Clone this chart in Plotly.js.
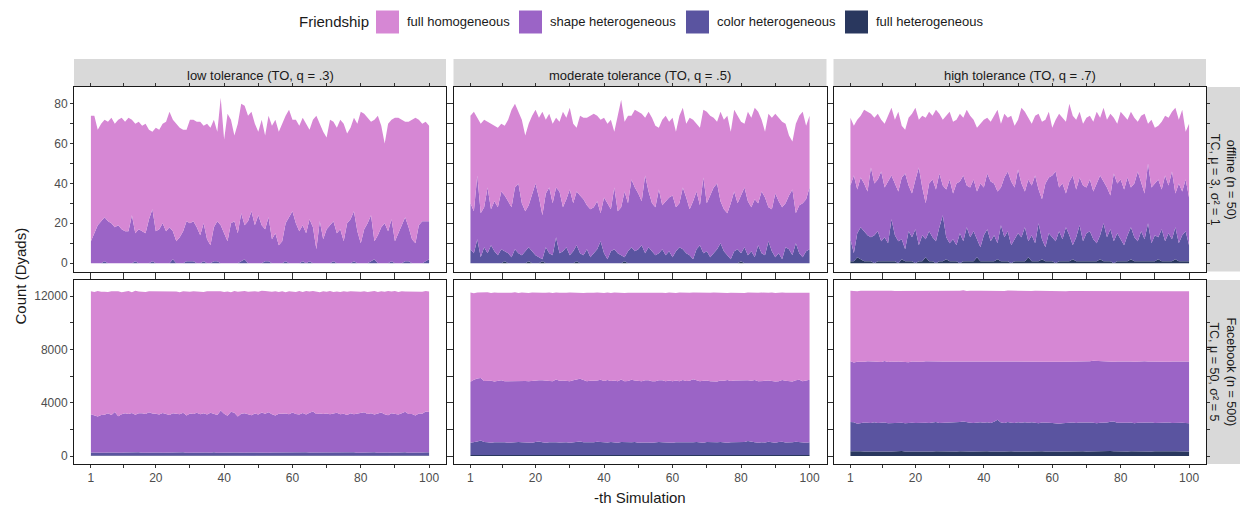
<!DOCTYPE html>
<html><head><meta charset="utf-8">
<script src="https://cdn.plot.ly/plotly-3.0.1.min.js"></script>
<style>html,body{margin:0;padding:0;background:#fff}#chart{width:1241px;height:506px}</style>
</head><body><div id="chart"></div>
<script>
const simulation = [1,2,3,4,5,6,7,8,9,10,11,12,13,14,15,16,17,18,19,20,21,22,23,24,25,26,27,28,29,30,31,32,33,34,35,36,37,38,39,40,41,42,43,44,45,46,47,48,49,50,51,52,53,54,55,56,57,58,59,60,61,62,63,64,65,66,67,68,69,70,71,72,73,74,75,76,77,78,79,80,81,82,83,84,85,86,87,88,89,90,91,92,93,94,95,96,97,98,99,100];
const groupNames = ["full homogeneous","shape heterogeneous","color heterogeneous","full heterogeneous"];
const colTitles = ["low tolerance (TO, q = .3)","moderate tolerance (TO, q = .5)","high tolerance (TO, q = .7)"];
const rowTitles = ["offline (n = 50)<br>TC, μ = 3, σ² = 1","Facebook (n = 500)<br>TC, μ = 50, σ² = 5"];
const xTickVals = [1,20,40,60,80,100];
const yTickOffline = [0,20,40,60,80];
const yTickFacebook = [0,4000,8000,12000];
const yTickFacebookText = ["0","4000","8000","12000"];

// ---- offline, low tolerance
const offLow_fullHet = [0,0,0,0,0,0,0,0,0,0,0,0,0,0,0,0,0,0,0,0,0,0,0,0,0,0,0,0,0,0,0,0,0,0,0,0,0,0,0,0,0,0,0,0,0,0,0,0,0,0,0,0,0,0,0,0,0,0,0,0,0,0,0,0,0,0,0,0,0,0,0,0,0,0,0,0,0,0,0,0,0,0,0,0,0,0,0,0,0,0,0,0,0,0,0,0,0,0,0,0];
const offLow_colorHet = [0,0,0,0,1,0,0,0,0,0,0,0,0,1,0,0,0,0,1,0,0,0,0,0,2,0,0,0,1,1,1,0,0,1,0,0,1,1,0,0,0,0,0,0,1,2,0,0,0,0,0,1,1,0,0,0,0,1,0,0,0,0,1,0,1,0,0,0,0,0,0,1,0,0,0,0,0,1,0,0,0,0,1,2,0,0,0,0,1,0,0,0,1,1,0,0,0,0,1,2];
const offLow_shapeHet = [11,15,19,21,22,21,20,18,19,17,16,16,24,14,17,16,15,22,26,16,17,20,16,18,14,11,13,16,20,19,20,18,14,19,12,9,17,20,19,15,11,20,21,15,24,17,21,26,19,24,19,16,22,12,15,9,11,19,23,26,20,16,18,15,21,18,7,21,12,17,19,20,15,17,11,20,22,25,16,10,17,20,23,9,14,18,20,16,21,11,15,19,22,17,12,10,19,21,20,19];
const offLow_fullHomo = [63,59,48,49,49,50,53,52,53,56,55,57,48,55,54,53,55,45,39,52,50,50,55,58,56,59,55,51,46,52,51,53,57,49,58,59,54,45,64,47,64,52,43,55,55,60,53,50,51,42,53,47,51,57,57,57,59,54,54,46,52,53,54,55,45,54,67,49,54,46,53,50,53,55,59,45,46,47,54,66,58,53,47,61,60,51,40,54,50,62,58,53,48,53,60,63,53,49,50,48];

// ---- offline, moderate tolerance
const offMod_fullHet = [0,0,0,0,0,0,0,0,0,0,1,0,0,0,0,0,0,1,0,0,0,1,0,0,0,0,0,0,0,0,0,1,0,0,0,0,0,0,0,0,0,0,0,0,0,1,0,0,0,0,0,0,0,0,0,0,0,0,0,0,0,0,0,0,0,0,0,0,0,0,0,0,0,0,0,0,0,0,0,1,0,0,0,0,0,0,0,0,0,0,0,0,0,0,0,0,0,0,0,0];
const offMod_colorHet = [7,5,12,3,8,5,9,6,4,7,5,5,3,7,5,4,6,7,6,4,3,1,8,5,4,13,5,6,8,4,6,8,5,4,7,3,5,7,11,5,2,6,7,5,4,2,6,8,6,7,9,5,8,6,4,5,7,4,6,3,6,8,7,5,4,2,7,9,5,6,3,5,7,10,6,4,2,6,7,4,8,4,6,3,9,5,4,11,6,3,5,2,8,7,4,10,5,3,6,7];
const offMod_shapeHet = [23,21,32,22,20,33,18,25,24,29,28,26,25,31,35,26,20,21,28,36,30,22,27,33,26,25,31,22,24,33,24,27,29,28,22,24,23,24,14,28,28,21,31,21,24,33,24,34,32,28,22,39,28,24,24,32,22,27,27,31,22,22,31,28,23,29,29,20,38,24,31,33,33,21,21,21,28,30,23,29,30,27,22,29,21,31,29,17,21,32,26,26,22,27,33,15,24,27,26,31];
const offMod_fullHomo = [44,50,29,45,44,33,43,38,40,34,35,41,49,42,36,42,38,41,40,37,40,52,37,37,40,35,35,48,41,41,40,32,40,41,44,47,47,43,47,40,40,45,28,48,54,35,44,32,39,41,44,29,40,43,41,31,43,43,38,39,38,44,40,37,46,41,34,39,34,46,40,35,31,45,45,49,36,41,44,37,32,45,45,46,46,36,33,47,46,40,42,43,40,30,24,45,45,46,37,36];

// ---- offline, high tolerance
const offHigh_fullHet = [1,1,3,2,1,1,1,0,1,1,1,1,1,1,0,2,1,1,1,0,1,1,3,1,1,0,1,1,2,1,1,1,0,1,1,1,1,3,1,1,1,1,1,2,1,1,1,0,1,1,1,1,3,1,1,1,2,1,1,1,0,1,1,1,1,2,1,1,1,1,1,1,1,2,1,1,1,0,1,1,1,1,2,1,1,1,1,1,1,1,2,1,1,1,1,2,1,1,1,1];
const offHigh_colorHet = [11,4,12,16,15,13,12,14,15,10,12,9,21,13,11,10,6,15,12,17,8,13,9,15,12,11,17,23,11,9,11,8,15,10,17,12,15,9,7,13,16,10,13,8,18,12,15,9,11,14,12,17,8,13,9,19,10,7,14,12,11,15,11,17,13,7,12,18,10,14,15,11,9,12,19,12,16,11,14,11,8,13,16,12,10,15,11,19,9,13,11,16,10,14,11,16,9,13,15,8];
const offHigh_shapeHet = [27,39,22,25,24,22,35,26,26,35,25,31,22,26,25,31,38,23,22,25,39,24,18,24,29,26,27,15,24,32,23,31,26,33,21,25,26,24,32,24,28,30,26,26,19,30,30,32,26,32,27,18,31,25,34,17,20,32,28,31,35,22,28,17,27,35,24,24,28,23,26,24,30,30,21,25,17,34,25,30,28,29,20,27,35,25,23,30,28,26,29,20,33,24,34,17,30,22,26,24];
const offHigh_fullHomo = [34,25,35,31,37,40,27,33,33,26,32,33,34,32,40,26,22,34,40,36,24,36,43,36,32,40,30,33,37,34,36,32,34,29,38,36,30,32,30,34,28,30,34,41,32,32,27,33,31,25,38,40,31,31,30,38,39,32,33,24,26,37,33,36,39,30,35,33,31,35,32,35,36,29,37,34,41,28,30,34,37,29,38,33,25,33,40,20,34,28,27,34,30,34,30,43,32,41,24,37];

// ---- Facebook, low tolerance
const fbLow_fullHet = [31,28,35,30,26,33,29,37,32,27,30,34,28,31,36,29,33,27,30,35,32,28,31,26,34,30,29,36,33,28,31,27,35,30,32,29,34,28,31,33,26,30,35,29,32,28,31,34,27,30,33,29,36,31,28,32,30,27,35,29,31,34,28,30,33,26,32,29,35,31,28,30,33,27,31,36,29,32,30,28,34,31,27,33,30,29,35,28,32,30,27,33,31,29,34,28,30,32,29,31];
const fbLow_colorHet = [228,215,240,232,209,236,221,247,230,218,225,239,212,234,243,220,228,251,216,233,238,222,229,245,214,231,226,240,219,235,227,244,218,230,236,213,249,225,232,221,240,216,234,228,247,222,231,219,238,226,233,242,215,229,236,224,251,220,230,239,217,235,228,244,221,232,226,213,240,229,246,218,233,225,237,222,230,248,216,231,239,224,228,245,219,234,227,241,213,236,230,222,247,218,232,238,225,229,243,250];
const fbLow_shapeHet = [2870,2780,2690,2810,2850,2930,2820,3010,2720,2880,2950,2870,2990,2830,2920,2960,2890,3000,2940,2910,2850,2980,2900,2810,2950,2930,2880,2960,2790,2930,2900,2980,2880,2950,2840,3010,2890,2830,3150,2920,2760,3080,2980,2700,2890,2950,2870,2800,2930,2860,2990,2900,3030,2870,2780,2920,2880,2940,2860,2990,2910,2850,2970,2830,2990,3080,2900,2950,2880,2920,2860,2930,2980,2870,2900,2810,2950,2860,2930,2980,3010,2900,2950,2840,2920,3000,2870,2780,2960,2900,2850,2960,3050,2910,2880,2780,2940,2900,3060,3010];
const fbLow_fullHomo = [9220,9280,9410,9240,9230,9110,9290,9050,9370,9150,9130,9230,9060,9290,9140,9130,9150,9080,9170,9140,9230,9080,9200,9230,9140,9140,9150,9120,9300,9120,9200,9080,9210,9090,9240,9100,9170,9260,8950,9130,9320,8960,9130,9360,9200,9170,9180,9280,9170,9200,9140,9210,9060,9190,9320,9130,9200,9100,9230,9090,9150,9250,9080,9280,9090,9040,9160,9090,9210,9140,9240,9120,9100,9170,9190,9250,9150,9190,9180,9080,9080,9140,9130,9250,9130,9100,9190,9330,9130,9200,9200,9150,9010,9180,9160,9300,9150,9150,9040,9050];

// ---- Facebook, moderate tolerance
const fbMod_fullHet = [72,68,80,75,64,78,70,83,67,74,76,69,81,72,66,79,73,68,77,71,74,82,67,75,70,78,69,73,80,66,75,71,79,68,74,77,70,83,72,65,78,73,69,76,71,80,67,74,79,70,72,77,68,81,74,66,75,70,78,73,69,76,72,80,67,74,71,79,73,68,75,70,82,72,66,77,73,69,78,71,74,80,68,75,71,77,70,73,79,67,72,76,69,81,74,70,78,68,75,73];
const fbMod_colorHet = [930,960,1010,1080,990,950,920,940,965,980,955,930,945,970,990,960,935,950,925,980,1010,945,930,965,990,955,940,975,960,935,950,980,1000,965,940,930,955,985,960,945,930,970,950,925,985,960,940,955,975,930,945,965,950,920,975,990,960,940,955,930,965,950,985,940,925,960,975,945,930,990,960,935,950,970,945,925,960,980,955,1000,970,1040,985,950,930,960,945,990,960,935,970,985,950,930,960,1000,965,940,920,955];
const fbMod_shapeHet = [4560,4700,4720,4690,4580,4610,4650,4560,4600,4630,4580,4620,4590,4610,4560,4600,4620,4580,4640,4590,4600,4660,4680,4620,4550,4700,4640,4620,4580,4610,4650,4700,4720,4660,4600,4640,4610,4590,4680,4620,4700,4580,4650,4610,4680,4560,4620,4690,4610,4640,4590,4630,4670,4600,4560,4620,4650,4590,4630,4600,4620,4580,4640,4610,4660,4730,4620,4580,4640,4600,4570,4610,4560,4620,4640,4700,4590,4620,4650,4600,4620,4560,4590,4680,4610,4570,4620,4600,4580,4590,4560,4640,4620,4600,4560,4620,4670,4590,4650,4690];
const fbMod_fullHomo = [6700,6480,6450,6420,6590,6640,6580,6680,6610,6550,6640,6640,6620,6620,6600,6620,6610,6630,6620,6600,6580,6560,6570,6610,6610,6530,6590,6600,6620,6650,6570,6500,6470,6540,6630,6580,6610,6610,6520,6600,6550,6600,6590,6620,6520,6620,6620,6530,6580,6620,6640,6590,6530,6660,6620,6580,6560,6620,6600,6640,6570,6660,6550,6600,6600,6490,6580,6630,6610,6580,6630,6650,6650,6580,6600,6520,6630,6570,6590,6570,6570,6590,6600,6530,6630,6650,6590,6580,6640,6630,6640,6570,6600,6620,6660,6550,6520,6650,6600,6530];

// ---- Facebook, high tolerance
const fbHigh_fullHet = [350,360,340,355,330,345,365,350,340,335,355,345,330,360,350,370,345,340,355,350,335,345,360,350,340,355,345,330,350,360,345,340,355,365,350,345,335,350,360,345,355,340,350,375,345,330,355,350,340,360,350,345,335,350,355,340,360,345,330,350,340,335,345,355,350,340,345,360,350,335,345,355,340,350,360,345,370,355,340,350,345,335,350,340,355,345,360,350,340,355,345,350,340,335,350,355,345,340,350,345];
const fbHigh_colorHet = [2200,2170,2080,2120,2180,2140,2110,2190,2130,2150,2160,2120,2140,2100,2170,2130,2110,2160,2140,2120,2150,2180,2140,2120,2160,2190,2130,2150,2120,2170,2140,2160,2190,2230,2170,2150,2140,2160,2180,2150,2170,2130,2210,2340,2160,2140,2190,2150,2130,2170,2150,2190,2160,2180,2140,2120,2160,2140,2170,2130,2100,2080,2110,2140,2150,2170,2130,2160,2180,2210,2160,2140,2120,2150,2130,2170,2200,2240,2160,2140,2130,2150,2170,2120,2140,2160,2130,2150,2170,2120,2140,2160,2150,2180,2120,2140,2160,2150,2130,2110];
const fbHigh_shapeHet = [4550,4480,4640,4580,4560,4620,4590,4540,4600,4570,4610,4580,4620,4600,4570,4560,4610,4530,4590,4600,4580,4540,4600,4620,4570,4560,4590,4600,4620,4560,4590,4570,4580,4500,4560,4610,4620,4580,4570,4600,4560,4620,4540,4380,4570,4600,4560,4590,4620,4560,4580,4540,4590,4570,4610,4630,4580,4590,4560,4600,4640,4660,4620,4580,4570,4550,4590,4560,4540,4520,4600,4640,4660,4590,4610,4560,4500,4480,4580,4600,4620,4590,4570,4600,4590,4570,4610,4580,4560,4620,4600,4580,4590,4560,4620,4600,4570,4580,4600,4630];
const fbHigh_fullHomo = [5290,5350,5300,5330,5320,5290,5340,5310,5290,5320,5260,5330,5300,5310,5280,5320,5300,5330,5270,5300,5320,5300,5290,5280,5310,5290,5300,5310,5300,5280,5310,5320,5270,5330,5300,5290,5280,5300,5290,5300,5310,5280,5300,5320,5300,5300,5300,5310,5280,5270,5290,5310,5290,5280,5290,5300,5270,5290,5300,5290,5270,5250,5270,5290,5300,5310,5300,5290,5320,5310,5300,5260,5270,5290,5300,5310,5330,5320,5290,5300,5290,5300,5280,5310,5300,5290,5310,5280,5300,5320,5280,5270,5280,5290,5290,5270,5280,5290,5280,5280];

// ---------- build ----------
const colors = {"full homogeneous":"#D687D4","shape heterogeneous":"#9B64C6","color heterogeneous":"#5A54A0","full heterogeneous":"#29375E"};
const W = 1241, H = 506;
const colPx = [[74,446],[453.5,826.5],[833.5,1206]];
const rowPx = [[87,271.5],[280,464]];
const px2x = p => p / W;
const px2y = p => 1 - p / H;
const FONT = "Liberation Sans, Arial, sans-serif";

const panels = [
  {row:0,col:0,series:[offLow_fullHet,offLow_colorHet,offLow_shapeHet,offLow_fullHomo]},
  {row:0,col:1,series:[offMod_fullHet,offMod_colorHet,offMod_shapeHet,offMod_fullHomo]},
  {row:0,col:2,series:[offHigh_fullHet,offHigh_colorHet,offHigh_shapeHet,offHigh_fullHomo]},
  {row:1,col:0,series:[fbLow_fullHet,fbLow_colorHet,fbLow_shapeHet,fbLow_fullHomo]},
  {row:1,col:1,series:[fbMod_fullHet,fbMod_colorHet,fbMod_shapeHet,fbMod_fullHomo]},
  {row:1,col:2,series:[fbHigh_fullHet,fbHigh_colorHet,fbHigh_shapeHet,fbHigh_fullHomo]}
];
const stackOrder = ["full heterogeneous","color heterogeneous","shape heterogeneous","full homogeneous"];

const traces = [];
const layout = {
  width: W, height: H, margin:{l:0,r:0,t:0,b:0},
  paper_bgcolor:"#ffffff", plot_bgcolor:"#ffffff",
  showlegend:false, font:{family:FONT, color:"#1A1A1A"},
  shapes:[], annotations:[]
};

panels.forEach((p, i) => {
  const n = i + 1;
  const xa = n === 1 ? "x" : "x" + n;
  const ya = n === 1 ? "y" : "y" + n;
  p.series.forEach((vals, k) => {
    traces.push({
      type:"scatter", mode:"lines", x: simulation, y: vals,
      xaxis: xa, yaxis: ya, stackgroup: "s" + n,
      name: stackOrder[k], fillcolor: colors[stackOrder[k]],
      line:{width:0, color: colors[stackOrder[k]]}, hoverinfo:"x+y+name"
    });
  });
  const common = {
    showline:true, linecolor:"#1A1A1A", linewidth:1, mirror:"ticks",
    ticks:"outside", ticklen:3, tickwidth:1, tickcolor:"#333333",
    showgrid:false, zeroline:false, fixedrange:true,
    tickfont:{family:FONT, size:12, color:"#4D4D4D"}
  };
  layout["xaxis" + (n === 1 ? "" : n)] = Object.assign({}, common, {
    domain:[px2x(colPx[p.col][0]), px2x(colPx[p.col][1])],
    anchor: ya, range:[-3.95, 104.95], tickmode:"array", tickvals:xTickVals,
    showticklabels: p.row === 1,
    minor:{tickvals:[10.5,30,50,70,90], ticks:"outside", ticklen:3, tickcolor:"#333333", showgrid:false}
  });
  layout["yaxis" + (n === 1 ? "" : n)] = Object.assign({}, common, {
    domain:[px2y(rowPx[p.row][1]), px2y(rowPx[p.row][0])],
    anchor: xa,
    range: p.row === 0 ? [-4.2, 88.4] : [-600, 13200],
    tickmode:"array",
    tickvals: p.row === 0 ? yTickOffline : yTickFacebook,
    ticktext: p.row === 0 ? yTickOffline.map(String) : yTickFacebookText,
    showticklabels: p.col === 0,
    minor:{tickvals: p.row === 0 ? [10,30,50,70] : [2000,6000,10000], ticks:"outside", ticklen:3, tickcolor:"#333333", showgrid:false}
  });
});

// facet strips (top)
colTitles.forEach((t, c) => {
  layout.shapes.push({type:"rect", xref:"paper", yref:"paper", layer:"below",
    x0:px2x(colPx[c][0]), x1:px2x(colPx[c][1]), y0:px2y(87), y1:px2y(59),
    fillcolor:"#D9D9D9", line:{width:0}});
  layout.annotations.push({xref:"paper", yref:"paper", x:px2x((colPx[c][0]+colPx[c][1])/2), y:px2y(75),
    text:t, showarrow:false, xanchor:"center", yanchor:"middle", font:{family:FONT, size:13, color:"#1A1A1A"}});
});
// facet strips (right)
rowTitles.forEach((t, r) => {
  layout.shapes.push({type:"rect", xref:"paper", yref:"paper", layer:"below",
    x0:px2x(1207), x1:px2x(1240), y0:px2y(rowPx[r][1]), y1:px2y(rowPx[r][0]),
    fillcolor:"#D9D9D9", line:{width:0}});
  layout.annotations.push({xref:"paper", yref:"paper", x:px2x(1222.5), y:px2y((rowPx[r][0]+rowPx[r][1])/2),
    text:t, textangle:90, showarrow:false, xanchor:"center", yanchor:"middle",
    font:{family:FONT, size:12.5, color:"#1A1A1A"}});
});

// axis titles
layout.annotations.push({xref:"paper", yref:"paper", x:px2x(20), y:px2y(275.5), text:"Count (Dyads)",
  textangle:-90, showarrow:false, xanchor:"center", yanchor:"middle", font:{family:FONT, size:15, color:"#1A1A1A"}});
layout.annotations.push({xref:"paper", yref:"paper", x:px2x(640), y:px2y(497), text:"-th Simulation",
  showarrow:false, xanchor:"center", yanchor:"middle", font:{family:FONT, size:15, color:"#1A1A1A"}});

// legend (drawn manually to match large key boxes)
layout.annotations.push({xref:"paper", yref:"paper", x:px2x(297), y:px2y(22), text:"Friendship",
  showarrow:false, xanchor:"left", yanchor:"middle", font:{family:FONT, size:15, color:"#1A1A1A"}});
const keyX = [376, 519, 686, 845];
groupNames.forEach((g, k) => {
  layout.shapes.push({type:"rect", xref:"paper", yref:"paper",
    x0:px2x(keyX[k]), x1:px2x(keyX[k]+23), y0:px2y(33.5), y1:px2y(10.5),
    fillcolor:colors[g], line:{width:0}});
  layout.annotations.push({xref:"paper", yref:"paper", x:px2x(keyX[k]+29), y:px2y(22), text:g,
    showarrow:false, xanchor:"left", yanchor:"middle", font:{family:FONT, size:13, color:"#1A1A1A"}});
});

Plotly.newPlot("chart", traces, layout, {displayModeBar:false, staticPlot:true});
</script>
</body></html>
